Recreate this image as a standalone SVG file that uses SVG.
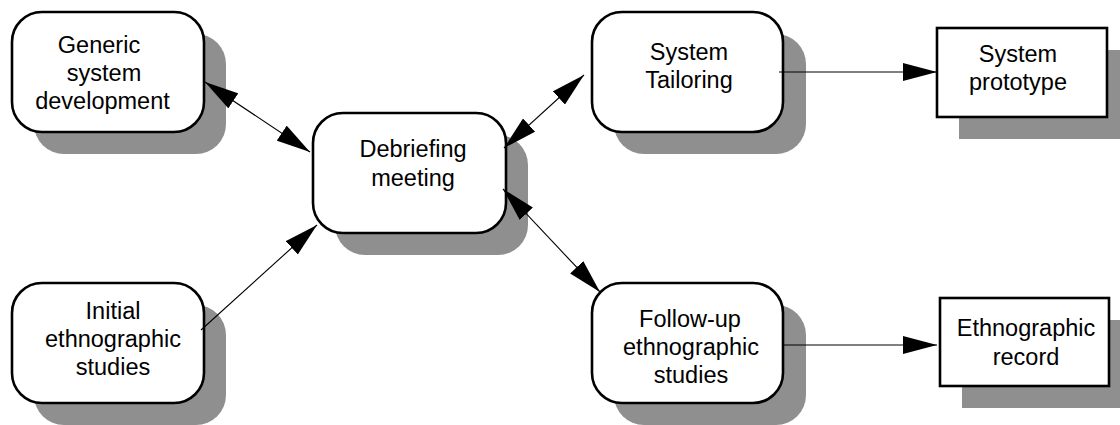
<svg xmlns="http://www.w3.org/2000/svg" width="1120" height="425" viewBox="0 0 1120 425">
<style>
.sh{fill:#8f8f8f;stroke:none}
.bx{fill:#ffffff;stroke:#000;stroke-width:2.6}
.t{font-family:"Liberation Sans",Arial,Helvetica,sans-serif;font-size:23.5px;fill:#000;text-anchor:middle}
.c{stroke:#000;stroke-width:1.1;fill:none}
</style>
<defs>
<marker id="ah" markerUnits="userSpaceOnUse" markerWidth="34" markerHeight="18" refX="34" refY="9" orient="auto-start-reverse" viewBox="0 0 34 18">
<path d="M0,0 L34,9 L0,18 z" fill="#000"/>
</marker>
</defs>
<rect width="1120" height="425" fill="#fff"/>
<g id="generic">
<rect class="sh" x="34" y="34" width="192" height="120" rx="30"/>
<rect class="bx" x="12" y="12" width="192" height="120" rx="30"/>
<text class="t" x="99" y="52.5">Generic</text>
<text class="t" x="104" y="80.5">system</text>
<text class="t" x="102.5" y="108.5">development</text>
</g>
<g id="initial">
<rect class="sh" x="34" y="305" width="192" height="120" rx="30"/>
<rect class="bx" x="12" y="283" width="192" height="120" rx="30"/>
<text class="t" x="113" y="318.5">Initial</text>
<text class="t" x="113" y="347">ethnographic</text>
<text class="t" x="113" y="375">studies</text>
</g>
<g id="debriefing">
<rect class="sh" x="335" y="135" width="193" height="120" rx="30"/>
<rect class="bx" x="313" y="113" width="193" height="120" rx="30"/>
<text class="t" x="413" y="157">Debriefing</text>
<text class="t" x="413" y="185.5">meeting</text>
</g>
<g id="tailoring">
<rect class="sh" x="614" y="34" width="192" height="120" rx="30"/>
<rect class="bx" x="592" y="12" width="191" height="120" rx="30"/>
<text class="t" x="689" y="60">System</text>
<text class="t" x="689" y="88">Tailoring</text>
</g>
<g id="followup">
<rect class="sh" x="614" y="305" width="192" height="120" rx="30"/>
<rect class="bx" x="592" y="283" width="191" height="120" rx="30"/>
<text class="t" x="690" y="327">Follow-up</text>
<text class="t" x="691" y="355">ethnographic</text>
<text class="t" x="691" y="383">studies</text>
</g>
<g id="prototype">
<rect class="sh" x="959" y="50" width="170" height="89"/>
<rect class="bx" x="937" y="28" width="170" height="89"/>
<text class="t" x="1018" y="61.5">System</text>
<text class="t" x="1018" y="90">prototype</text>
</g>
<g id="record">
<rect class="sh" x="962" y="320" width="170" height="88"/>
<rect class="bx" x="940" y="298" width="169" height="88"/>
<text class="t" x="1026" y="336">Ethnographic</text>
<text class="t" x="1026" y="365">record</text>
</g>
<g id="connectors">
<line class="c" x1="205" y1="82" x2="310" y2="152" marker-start="url(#ah)" marker-end="url(#ah)"/>
<line class="c" x1="201" y1="330" x2="317" y2="225" marker-end="url(#ah)"/>
<line class="c" x1="504" y1="148" x2="584" y2="75" marker-start="url(#ah)" marker-end="url(#ah)"/>
<line class="c" x1="503" y1="189" x2="600" y2="292" marker-start="url(#ah)" marker-end="url(#ah)"/>
<line class="c" x1="779" y1="72" x2="937" y2="72" marker-end="url(#ah)"/>
<line class="c" x1="783" y1="345" x2="937" y2="345" marker-end="url(#ah)"/>
</g>
</svg>
